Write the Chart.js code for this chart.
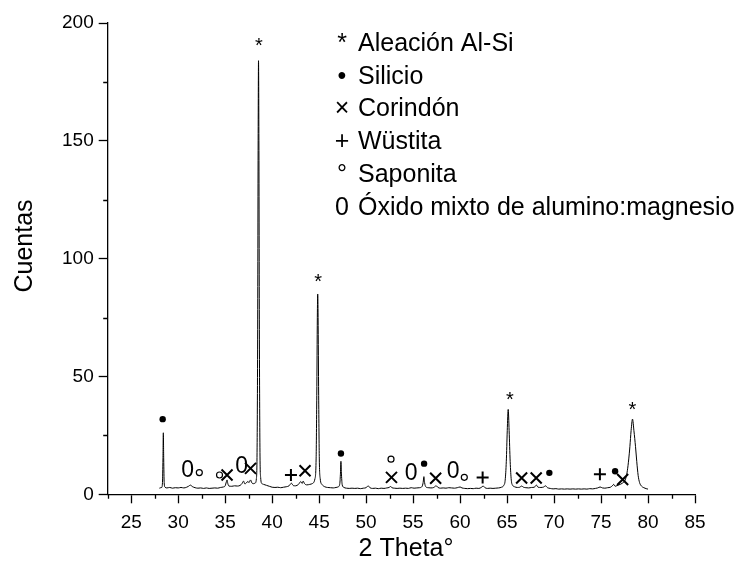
<!DOCTYPE html>
<html>
<head>
<meta charset="utf-8">
<script src="https://cdn.jsdelivr.net/npm/chart.js@4.4.0/dist/chart.umd.min.js"></script>
<style>
  html, body { margin: 0; padding: 0; background: #fff; }
  #wrap { width: 740px; height: 565px; }
</style>
</head>
<body>
<div id="wrap"><canvas id="grafico"></canvas></div>
<script>
// Difractograma: 2 Theta (°) y cuentas
const twoTheta = [
  28.00, 28.15, 28.25, 28.33, 28.38, 28.42, 28.46, 28.51, 28.60, 28.80,
  29.10, 29.40, 29.70, 30.00, 30.30, 30.60, 30.90, 31.10, 31.30, 31.50,
  31.80, 32.10, 32.40, 32.70, 33.00, 33.30, 33.60, 33.90, 34.20, 34.50,
  34.80, 35.00, 35.12, 35.20, 35.28, 35.40, 35.70, 36.00, 36.30, 36.60,
  36.80, 36.95, 37.10, 37.25, 37.40, 37.55, 37.70, 37.85, 38.00, 38.20,
  38.32, 38.40, 38.46, 38.51, 38.55, 38.59, 38.64, 38.70, 38.78, 38.90,
  39.10, 39.40, 39.70, 40.00, 40.30, 40.60, 40.90, 41.20, 41.50, 41.80,
  42.05, 42.25, 42.50, 42.80, 43.05, 43.20, 43.30, 43.45, 43.70, 44.00,
  44.30, 44.55, 44.68, 44.75, 44.81, 44.85, 44.89, 44.95, 45.02, 45.12,
  45.30, 45.60, 45.90, 46.20, 46.50, 46.80, 47.05, 47.20, 47.27, 47.32,
  47.37, 47.45, 47.60, 47.90, 48.20, 48.50, 48.80, 49.10, 49.40, 49.70,
  50.00, 50.22, 50.40, 50.70, 51.00, 51.30, 51.60, 51.90, 52.20, 52.45,
  52.60, 52.75, 53.00, 53.30, 53.60, 53.90, 54.20, 54.50, 54.80, 55.10,
  55.40, 55.70, 55.95, 56.07, 56.15, 56.23, 56.35, 56.60, 56.90, 57.20,
  57.45, 57.65, 57.90, 58.20, 58.50, 58.80, 59.10, 59.40, 59.70, 60.00,
  60.20, 60.50, 60.80, 61.10, 61.40, 61.70, 62.00, 62.25, 62.45, 62.65,
  62.90, 63.20, 63.50, 63.80, 64.10, 64.40, 64.65, 64.80, 64.92, 65.02,
  65.12, 65.22, 65.33, 65.45, 65.60, 65.80, 66.10, 66.35, 66.55, 66.75,
  67.00, 67.30, 67.60, 67.90, 68.12, 68.30, 68.60, 68.90, 69.10, 69.30,
  69.60, 69.90, 70.20, 70.50, 70.80, 71.10, 71.40, 71.70, 72.00, 72.30,
  72.60, 72.90, 73.20, 73.50, 73.80, 74.10, 74.40, 74.65, 74.90, 75.15,
  75.40, 75.70, 76.00, 76.20, 76.35, 76.50, 76.70, 76.90, 77.10, 77.30,
  77.50, 77.65, 77.80, 77.95, 78.07, 78.20, 78.35, 78.50, 78.67, 78.80,
  78.95, 79.10, 79.30, 79.55, 79.80, 80.00
];
const cuentas = [
  2.6, 2.8, 2.9, 5.0, 15, 26.1, 15, 5.0, 3.0, 2.7,
  2.9, 2.6, 2.8, 2.7, 2.9, 2.7, 3.0, 3.4, 3.9, 3.3,
  2.8, 2.6, 2.7, 2.5, 2.7, 2.5, 2.6, 2.7, 2.6, 2.9,
  3.1, 3.6, 5.2, 6.1, 4.6, 3.5, 3.4, 3.6, 3.5, 3.8,
  4.6, 5.6, 4.4, 4.8, 5.4, 5.0, 6.1, 4.8, 4.5, 4.8,
  6.5, 20, 70, 150, 184, 150, 70, 20, 7.0, 4.6,
  4.2, 3.8, 3.4, 3.0, 2.9, 3.0, 2.8, 3.0, 3.2, 3.6,
  4.7, 3.7, 3.6, 4.2, 5.4, 4.6, 5.6, 4.5, 4.0, 4.2,
  4.6, 6.5, 15, 42, 75, 85, 75, 42, 15, 6.5,
  4.2, 3.2, 2.9, 2.8, 2.7, 2.9, 3.2, 4.5, 9.0, 14,
  9.0, 4.2, 3.0, 2.6, 2.5, 2.6, 2.5, 2.6, 2.4, 2.6,
  2.8, 3.6, 2.8, 2.5, 2.6, 2.4, 2.6, 2.5, 2.7, 2.9,
  3.3, 2.8, 2.6, 2.5, 2.6, 2.5, 2.6, 2.5, 2.8, 2.6,
  2.7, 2.8, 3.3, 5.0, 7.5, 4.8, 3.2, 2.8, 2.7, 2.9,
  3.6, 2.9, 2.6, 2.7, 2.6, 2.8, 2.7, 2.6, 2.8, 3.1,
  2.7, 2.5, 2.4, 2.5, 2.4, 2.6, 2.5, 2.9, 3.5, 2.8,
  2.5, 2.6, 2.5, 2.6, 2.7, 3.0, 3.8, 6.0, 14, 27,
  36, 27, 14, 6.0, 3.8, 3.2, 2.9, 3.0, 3.5, 3.0,
  2.8, 2.7, 2.9, 3.0, 3.9, 3.0, 2.9, 3.1, 3.6, 2.8,
  2.5, 2.3, 2.4, 2.2, 2.3, 2.2, 2.3, 2.2, 2.3, 2.2,
  2.3, 2.2, 2.3, 2.2, 2.4, 2.3, 2.5, 2.7, 3.1, 2.7,
  2.6, 2.8, 3.0, 3.6, 4.2, 3.4, 3.7, 4.0, 4.3, 4.8,
  5.5, 7.0, 10, 15, 20.2, 27, 31.9, 27, 20.2, 14,
  8.0, 5.0, 3.5, 2.8, 2.4, 2.2
];

// Posición de las marcas de fase [2 Theta, cuentas]
const picosAleacion = [[38.6, 192.7], [44.9, 92.3], [65.3, 42.1], [78.35, 37.9]];
const picosSilicio = [[28.35, 31.9], [47.32, 17.3], [56.17, 13.0], [69.5, 9.1], [76.5, 9.8]];
const picosCorindon = [[35.2, 8.2], [37.7, 11.0], [43.5, 10.0], [52.7, 7.2], [57.4, 6.8], [66.55, 6.9], [68.1, 6.9], [77.3, 6.3]];
const picosWustita = [[42.0, 8.2], [62.4, 7.1], [74.88, 8.5]];
const picosSaponita = [[32.25, 9.2], [34.4, 8.2], [52.65, 14.9], [60.45, 7.2]];
const picosOxido = [[31.0, 10.8], [36.75, 12.4], [54.8, 9.4], [59.25, 10.2]];

// Leyenda
const leyendaSimbolos = ['*', '•', '×', '+', '°', '0'];
const leyendaTextos = ['Aleación Al-Si', 'Silicio', 'Corindón', 'Wüstita', 'Saponita', 'Óxido mixto de alumino:magnesio'];

const xTitulo = '2 Theta°';
const yTitulo = 'Cuentas';

const FUENTE = '"Liberation Sans", Arial, Helvetica, sans-serif';

const puntos = twoTheta.map((t, i) => ({ x: t, y: cuentas[i] }));

const esMayorX = v => Math.abs(v % 5) < 1e-6;
const esMayorY = v => Math.abs(v % 50) < 1e-6;

// Dibuja marcas, ticks menores, títulos y leyenda
const extras = {
  id: 'extras',
  afterDraw(chart) {
    const { ctx, scales: { x, y } } = chart;
    const pos = p => [x.getPixelForValue(p[0]), y.getPixelForValue(p[1])];
    ctx.save();
    ctx.fillStyle = '#000';
    ctx.strokeStyle = '#000';

    // ticks menores
    ctx.lineWidth = 1.3;
    ctx.beginPath();
    x.ticks.forEach(t => {
      if (esMayorX(t.value)) return;
      const px = Math.round(x.getPixelForValue(t.value)) + 0.5;
      ctx.moveTo(px, y.bottom);
      ctx.lineTo(px, y.bottom + 4.5);
    });
    y.ticks.forEach(t => {
      if (esMayorY(t.value)) return;
      const py = Math.round(y.getPixelForValue(t.value)) + 0.5;
      ctx.moveTo(x.left, py);
      ctx.lineTo(x.left - 4.5, py);
    });
    ctx.stroke();

    // asteriscos
    ctx.textAlign = 'center';
    ctx.textBaseline = 'alphabetic';
    ctx.font = '20px ' + FUENTE;
    picosAleacion.forEach(p => {
      const [a, b] = pos(p);
      ctx.fillText('*', a, b + 0.57 * 20);
    });

    // puntos
    picosSilicio.forEach(p => {
      const [a, b] = pos(p);
      ctx.beginPath();
      ctx.arc(a, b, 3.2, 0, Math.PI * 2);
      ctx.fill();
    });

    // cruces
    ctx.lineWidth = 2;
    picosCorindon.forEach(p => {
      const [a, b] = pos(p);
      const s = 5.5;
      ctx.beginPath();
      ctx.moveTo(a - s, b - s); ctx.lineTo(a + s, b + s);
      ctx.moveTo(a + s, b - s); ctx.lineTo(a - s, b + s);
      ctx.stroke();
    });
    picosWustita.forEach(p => {
      const [a, b] = pos(p);
      const s = 6;
      ctx.beginPath();
      ctx.moveTo(a - s, b); ctx.lineTo(a + s, b);
      ctx.moveTo(a, b - s); ctx.lineTo(a, b + s);
      ctx.stroke();
    });

    // círculos abiertos
    ctx.lineWidth = 1.2;
    picosSaponita.forEach(p => {
      const [a, b] = pos(p);
      ctx.beginPath();
      ctx.arc(a, b, 3, 0, Math.PI * 2);
      ctx.stroke();
    });

    // ceros
    ctx.font = '23px ' + FUENTE;
    picosOxido.forEach(p => {
      const [a, b] = pos(p);
      ctx.fillText('0', a, b + 0.358 * 23);
    });

    // títulos de ejes
    ctx.font = '25px ' + FUENTE;
    ctx.textBaseline = 'middle';
    ctx.fillText(xTitulo, 406, 549);
    ctx.save();
    ctx.translate(25, 246);
    ctx.rotate(-Math.PI / 2);
    ctx.fillText(yTitulo, 0, 0);
    ctx.restore();

    // leyenda
    ctx.font = '25px ' + FUENTE;
    ctx.textBaseline = 'alphabetic';
    leyendaSimbolos.forEach((s, i) => {
      const base = 51 + 32.7 * i;
      ctx.textAlign = 'center';
      ctx.fillText(s, 342, base);
      ctx.textAlign = 'left';
      ctx.fillText(leyendaTextos[i], 358, base);
    });
    ctx.restore();
  }
};

new Chart(document.getElementById('grafico'), {
  type: 'scatter',
  data: {
    datasets: [{
      data: puntos,
      showLine: true,
      borderColor: '#000',
      borderWidth: 1,
      pointRadius: 0,
      cubicInterpolationMode: 'monotone'
    }]
  },
  options: {
    responsive: true,
    maintainAspectRatio: false,
    animation: false,
    layout: { padding: { top: 23, right: 45, left: 0, bottom: 0 } },
    plugins: { legend: { display: false }, tooltip: { enabled: false } },
    scales: {
      x: {
        type: 'linear',
        min: 22.5,
        max: 85,
        afterFit: s => { s.height = 70.7; },
        border: { color: '#000', width: 1.3 },
        grid: {
          drawOnChartArea: false,
          tickLength: 9,
          tickWidth: 1.3,
          tickColor: c => (c.tick && esMayorX(c.tick.value) ? '#000' : 'rgba(0,0,0,0)')
        },
        ticks: {
          stepSize: 2.5,
          autoSkip: false,
          maxRotation: 0,
          padding: 8,
          color: '#000',
          font: { family: FUENTE, size: 19 },
          callback: v => (esMayorX(v) ? String(v) : '')
        }
      },
      y: {
        min: 0,
        max: 200,
        afterFit: s => { s.width = 107.7; },
        border: { color: '#000', width: 1.3 },
        grid: {
          drawOnChartArea: false,
          tickLength: 9,
          tickWidth: 1.3,
          tickColor: c => (c.tick && esMayorY(c.tick.value) ? '#000' : 'rgba(0,0,0,0)')
        },
        ticks: {
          stepSize: 25,
          autoSkip: false,
          padding: 5,
          color: '#000',
          font: { family: FUENTE, size: 19 },
          callback: v => (esMayorY(v) ? String(v) : '')
        }
      }
    }
  },
  plugins: [extras]
});
</script>
</body>
</html>
